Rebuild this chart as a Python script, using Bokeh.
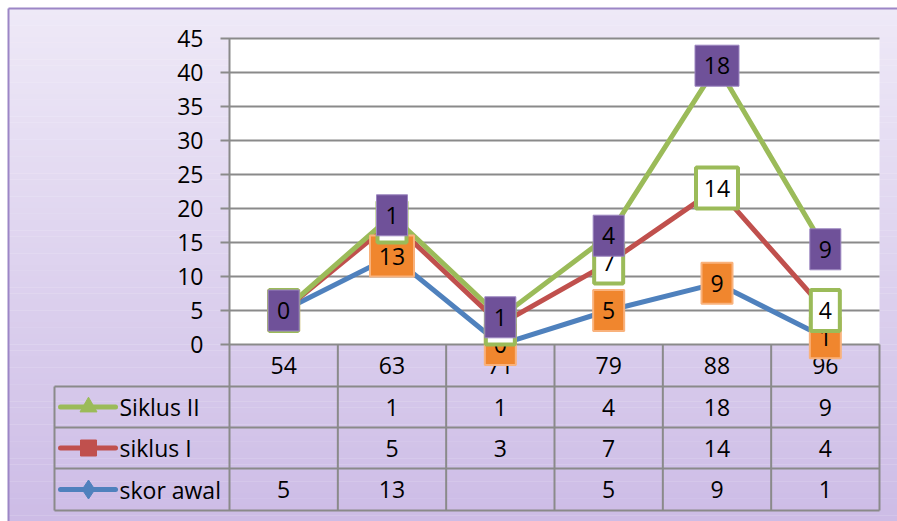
from bokeh.plotting import figure
from bokeh.models import Range1d, ColumnDataSource
from bokeh.embed import file_html
from bokeh.resources import INLINE
from bokeh.core.properties import value

# ---------------- data ----------------
categories = ["54", "63", "71", "79", "88", "96"]
skor_awal = [5, 13, None, 5, 9, 1]
siklus_1 = [None, 5, 3, 7, 14, 4]
siklus_2 = [None, 1, 1, 4, 18, 9]
y_ticks = [0, 5, 10, 15, 20, 25, 30, 35, 40, 45]
series_names = ["Siklus II", "siklus I", "skor awal"]   # table order, top to bottom

# ---------------- layout (page pixels) ----------------
ORIGIN = 0
W, H = 897, 521
CHART_L, CHART_T = 8, 8
PLOT_L, PLOT_R, PLOT_T, PLOT_B = 229, 879, 38, 344
Y_MAX = 45
TABLE_L = 54
ROW_EDGES = [344, 386, 427, 468, 510]
FONT = value("Open Sans")
FS = "23px"

n = len(categories)
ppx = (PLOT_R - PLOT_L) / n
ppy = (PLOT_B - PLOT_T) / Y_MAX


def X(px):
    return (px - PLOT_L) / ppx


def Y(py):
    return (PLOT_B - py) / ppy


p = figure(width=W, height=H, output_backend="svg", toolbar_location=None,
           x_range=Range1d(X(ORIGIN), X(ORIGIN + W)),
           y_range=Range1d(Y(ORIGIN + H), Y(ORIGIN)),
           min_border=0, min_border_left=0, min_border_right=0,
           min_border_top=0, min_border_bottom=0)
p.axis.visible = False
p.grid.visible = False
p.outline_line_color = None
p.background_fill_color = "white"
p.border_fill_color = "white"

# ---------------- background gradient ----------------
top_c = (0xEE, 0xE9, 0xF7)
bot_c = (0xCD, 0xBC, 0xE6)
NB = 90
y0, y1 = Y(ORIGIN + H), Y(CHART_T)
bands = dict(left=[], right=[], bottom=[], top=[], color=[])
for k in range(NB):
    t = k / (NB - 1)
    c = tuple(int(round(bot_c[j] + (top_c[j] - bot_c[j]) * t)) for j in range(3))
    bands["left"].append(X(CHART_L))
    bands["right"].append(X(ORIGIN + W))
    bands["bottom"].append(y0 + (y1 - y0) * k / NB)
    bands["top"].append(min(y1, y0 + (y1 - y0) * (k + 1) / NB + 0.05))
    bands["color"].append("#%02x%02x%02x" % c)
p.quad(source=ColumnDataSource(bands), left="left", right="right", bottom="bottom",
       top="top", fill_color="color", line_color=None)

# chart border (left + top)
p.segment(x0=[X(CHART_L), X(CHART_L)], y0=[Y(ORIGIN + H), Y(CHART_T)],
          x1=[X(CHART_L), X(ORIGIN + W)], y1=[Y(CHART_T), Y(CHART_T)],
          line_color="#9C86C6", line_width=2)

# plot area
p.quad(left=[0], right=[n], bottom=[0], top=[Y_MAX], fill_color="white", line_color=None)

GRID = "#8A8A8A"
# gridlines + tick marks
for t in y_ticks:
    p.segment(x0=[X(PLOT_L - 9)], y0=[t], x1=[n], y1=[t], line_color=GRID, line_width=2)
# axis / table verticals
p.segment(x0=[0], y0=[Y(ROW_EDGES[-1])], x1=[0], y1=[Y_MAX], line_color=GRID, line_width=2)
for i in range(1, n + 1):
    p.segment(x0=[i], y0=[Y(ROW_EDGES[-1])], x1=[i], y1=[0], line_color=GRID, line_width=2)
p.segment(x0=[X(TABLE_L)], y0=[Y(ROW_EDGES[-1])], x1=[X(TABLE_L)], y1=[Y(ROW_EDGES[1])],
          line_color=GRID, line_width=2)
for e in ROW_EDGES[1:]:
    p.segment(x0=[X(TABLE_L)], y0=[Y(e)], x1=[n], y1=[Y(e)], line_color=GRID, line_width=2)

# y tick labels
p.text(x=[X(203)] * len(y_ticks), y=y_ticks, text=[str(t) for t in y_ticks],
       text_align="right", text_baseline="middle", text_font=FONT, text_font_size=FS,
       text_color="black")

# category labels
xs = [i + 0.5 for i in range(n)]
cat_y = Y((ROW_EDGES[0] + ROW_EDGES[1]) / 2)
p.text(x=xs, y=[cat_y] * n, text=categories, text_align="center", text_baseline="middle",
       text_font=FONT, text_font_size=FS, text_color="black")

# ---------------- lines (stacked) ----------------
v0 = [v or 0 for v in skor_awal]
v1 = [v or 0 for v in siklus_1]
v2 = [v or 0 for v in siklus_2]
c0 = v0
c1 = [a + b for a, b in zip(c0, v1)]
c2 = [a + b for a, b in zip(c1, v2)]

BLUE, RED, GREEN = "#4F81BD", "#C0504D", "#9BBB59"
p.line(xs, c0, line_color=BLUE, line_width=5, line_join="round")
p.line(xs, c1, line_color=RED, line_width=5, line_join="round")
p.line(xs, c2, line_color=GREEN, line_width=5, line_join="round")


def labels(ys, vals, fill, line, lw, wextra=0):
    txt = [str(v) for v in vals]
    widths = [18 + 13 * len(t) + wextra for t in txt]
    p.rect(x=xs, y=ys, width=widths, height=[41] * n, width_units="screen",
           height_units="screen", fill_color=fill, line_color=line, line_width=lw)
    p.text(x=xs, y=ys, text=txt, text_align="center", text_baseline="middle",
           text_font=FONT, text_font_size=FS, text_color="black")


labels(c0, v0, "#F0862E", "#F9B27C", 2)
labels(c1, v1, "white", GREEN, 4, -2)
labels(c2, v2, "#6F5199", "#9C86C0", 1)

# ---------------- data table ----------------
table_vals = [siklus_2, siklus_1, skor_awal]
table_colors = [GREEN, RED, BLUE]
markers = ["triangle", "square", "diamond"]
msizes = [17, 16, 19]
for r in range(3):
    ry = Y((ROW_EDGES[r + 1] + ROW_EDGES[r + 2]) / 2)
    vals = table_vals[r]
    cx = [xs[i] for i in range(n) if vals[i] is not None]
    ct = [str(vals[i]) for i in range(n) if vals[i] is not None]
    p.text(x=cx, y=[ry] * len(cx), text=ct, text_align="center", text_baseline="middle",
           text_font=FONT, text_font_size=FS, text_color="black")
    p.segment(x0=[X(60)], y0=[ry], x1=[X(115)], y1=[ry], line_color=table_colors[r],
              line_width=5, line_cap="round")
    p.scatter(x=[X(88)], y=[ry], marker=markers[r], size=msizes[r],
              fill_color=table_colors[r], line_color=table_colors[r])
    p.text(x=[X(119)], y=[ry], text=[series_names[r]], text_align="left",
           text_baseline="middle", text_font=FONT, text_font_size=FS, text_color="black")

open("out.html", "w").write(file_html(p, INLINE))
